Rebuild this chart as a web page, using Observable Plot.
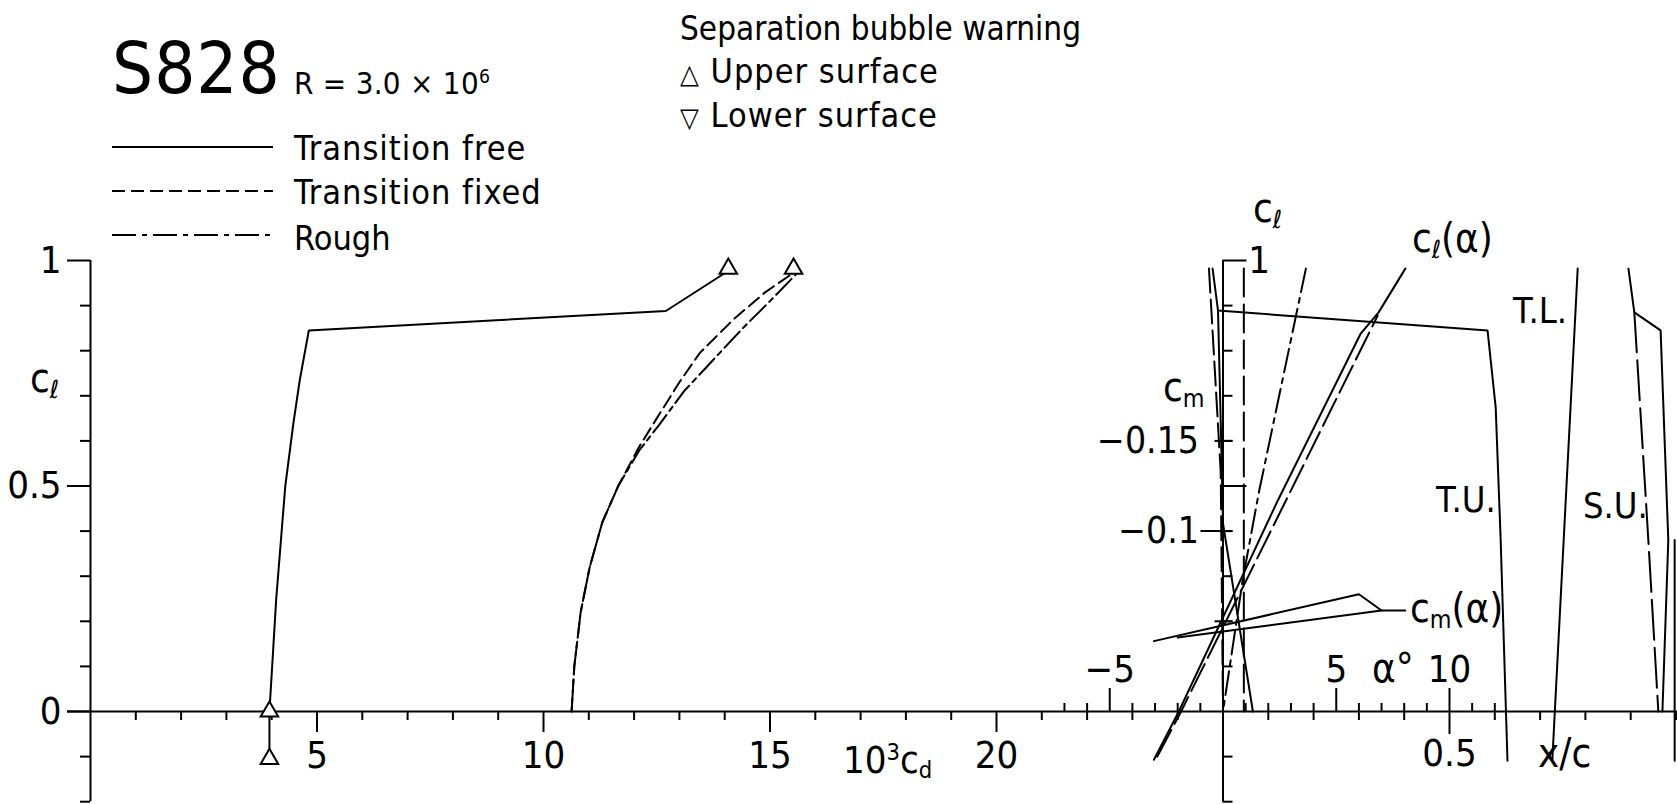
<!DOCTYPE html>
<html><head><meta charset="utf-8">
<script src="https://cdn.jsdelivr.net/npm/d3@7"></script>
<script src="https://cdn.jsdelivr.net/npm/@observablehq/plot@0.6"></script>
<style>
html,body{margin:0;padding:0;background:#fff;}
#chart{position:relative;width:1677px;height:804px;overflow:hidden;background:#fff;}
#chart svg{position:absolute;left:0;top:0;}
.t{position:absolute;white-space:nowrap;line-height:1;color:#000;font-family:"Liberation Sans Narrow","DejaVu Sans Condensed",sans-serif;}
</style></head><body><div id="chart"></div>
<script>
const FONT = '"Liberation Sans Narrow","DejaVu Sans Condensed",sans-serif';

// ---------- tick values ----------
const cdTicks = [1,2,3,4,5,6,7,8,9,10,11,12,13,14,15,16,17,18,19,20,21,22,23,24];
const cdMajor = [5,10,15,20];
const clTicks = [-0.2,-0.1,0,0.1,0.2,0.3,0.4,0.5,0.6,0.7,0.8,0.9,1];
const clMajor = [0,0.5,1];
const alphaTicks = [-7,-6,-5,-4,-3,-2,-1,1,2,3,4,5,6,7,8,9,10,11,12];
const alphaMajor = [-5,5,10];
const xcTicks = [0.1,0.2,0.3,0.4,0.5,0.6,0.7,0.8,0.9,1.0];
const xcMajor = [0.5];
const cmTicks = [-0.05,-0.1,-0.15];
const cmMajor = [-0.1];
const cmLabels = [-0.1,-0.15];

// ---------- drag polar: [10^3 cd, cl] ----------
const polarFree  = [[3.95,-0.105],[3.95,0],[4.1,0.25],[4.3,0.5],[4.48,0.64],[4.62,0.735],[4.82,0.845],[12.7,0.888],[14.05,0.975]];
const polarFixed = [[10.62,0],[10.68,0.1],[10.82,0.22],[11.02,0.32],[11.3,0.42],[11.65,0.5],[12.1,0.585],[12.5,0.65],[13.0,0.73],[13.45,0.795],[14.2,0.87],[14.9,0.93],[15.55,0.975]];
const polarRough = [[10.62,0],[10.68,0.1],[10.82,0.22],[11.02,0.32],[11.3,0.42],[11.65,0.5],[12.12,0.58],[12.55,0.635],[13.1,0.71],[13.75,0.78],[14.4,0.85],[15.0,0.91],[15.6,0.972]];
const bubbleFree  = [[3.95,0],[3.95,-0.105],[14.08,0.982]];
const bubbleFixed = [[15.52,0.982]];

// ---------- lift and moment vs alpha ----------
const clAlphaFree  = [[-3.05,-0.107],[-1.95,0],[2.42,0.468],[6.08,0.838],[6.87,0.885],[8.05,0.982]];
const clAlphaFixed = [[-2.9,-0.1],[-1.85,0],[2.78,0.468],[6.83,0.878]];
const cmAlphaFree  = [[-3.05,-0.039],[6.0,-0.065],[7.0,-0.056],[8.05,-0.056]];
const cmAlphaFixed = [[-2.0,-0.041],[7.0,-0.056]];

// ---------- transition / separation: [x/c, cl] ----------
const tuFree  = [[-0.023,0.982],[-0.011,0.889],[0.584,0.845],[0.602,0.674],[0.613,0.379],[0.628,-0.109]];
const tlFree  = [[0.783,0.982],[0.752,0.379],[0.727,-0.107]];
const suFree  = [[0.895,0.982],[0.908,0.885],[0.966,0.845],[0.983,0.379],[0.970,0.0]];
const suFixed = [[0.908,0.885],[0.939,0.379],[0.961,0.0]];
const teFree  = [[0.997,0.38],[0.997,-0.109]];
const leFree  = [[-0.011,0.889],[-0.004,0.6],[0.0,0.417],[0.066,0.0]];
const leFixed = [[-0.031,0.982],[-0.005,0.53],[0.0,0.0]];
const trFixed = [[0.046,0.982],[0.046,0.0]];
const leRough = [[0.183,0.982],[0.08,0.49],[0.044,0.295],[0.0,0.0]];

// ---------- layout ----------
const W = 1677, H = 804;
const chart = document.getElementById("chart");
const CL_DOMAIN = [-0.2, 1], CL_RANGE = [801.2, 260];
const CL_PX = 1 / 451, CD_PX = 1 / 45.3, A_PX = 1 / 22.65;
const SW = 2;
const fmt = d => (d < 0 ? "\u2212" : "") + String(Math.abs(d));
const lineOpts = (extra) => Object.assign({x: d => d[0], y: d => d[1], stroke: "black", strokeWidth: SW, strokeLinejoin: "miter"}, extra || {});

function layer(opts) {
  const svg = Plot.plot(Object.assign({
    width: W, height: H, margin: 0,
    style: {background: "transparent", overflow: "visible"}
  }, opts));
  chart.appendChild(svg);
}

// Plot A: drag polar
layer({
  x: {domain: [0, 25], range: [90, 1222.5], axis: null},
  y: {domain: CL_DOMAIN, range: CL_RANGE, axis: null},
  marks: [
    Plot.ruleX([0], {y1: -0.2, y2: 1, stroke: "black", strokeWidth: SW}),
    Plot.ruleY([0], {x1: -23 * CD_PX, x2: 25, stroke: "black", strokeWidth: SW}),
    Plot.ruleY(clTicks, {y: d => d, x1: d => clMajor.includes(d) ? -23 * CD_PX : -10 * CD_PX, x2: 0, stroke: "black", strokeWidth: SW}),
    Plot.ruleX(cdTicks, {x: d => d, y1: 0, y2: d => cdMajor.includes(d) ? -21 * CL_PX : -9 * CL_PX, stroke: "black", strokeWidth: SW}),
    Plot.text(clMajor, {x: 0, y: d => d, dx: -29, textAnchor: "end", text: fmt, fontSize: 38, fontFamily: FONT, fill: "black"}),
    Plot.text(cdMajor, {x: d => d, y: 0, dy: 44, text: fmt, fontSize: 38, fontFamily: FONT, fill: "black"}),
    Plot.line(polarFree, lineOpts()),
    Plot.line(polarFixed, lineOpts({strokeDasharray: "13,6"})),
    Plot.line(polarRough, lineOpts({strokeDasharray: "22,5,5,5"})),
    Plot.dot(bubbleFree, {x: d => d[0], y: d => d[1], symbol: "triangle", r: 6.5, fill: "white", stroke: "black", strokeWidth: SW}),
    Plot.dot(bubbleFixed, {x: d => d[0], y: d => d[1], symbol: "triangle", r: 6.5, fill: "white", stroke: "black", strokeWidth: SW})
  ]
});

// Plot B: cl vs alpha
layer({
  x: {domain: [0, 20], range: [1222.5, 1675.5], axis: null},
  y: {domain: CL_DOMAIN, range: CL_RANGE, axis: null},
  marks: [
    Plot.ruleX([0], {y1: -0.2, y2: 1, stroke: "black", strokeWidth: SW}),
    Plot.ruleY(clTicks.filter(d => d !== 0), {y: d => d, x1: 0, x2: d => (d === 0.5 || d === 1) ? 24 * A_PX : 10 * A_PX, stroke: "black", strokeWidth: SW}),
    Plot.ruleX(alphaTicks, {x: d => d, y1: 0, y2: d => alphaMajor.includes(d) ? 23 * CL_PX : 8 * CL_PX, stroke: "black", strokeWidth: SW}),
    Plot.text(alphaMajor, {x: d => d, y: 0, dy: -42, text: fmt, fontSize: 38, fontFamily: FONT, fill: "black"}),
    Plot.text([1], {x: 0, y: d => d, dx: 36, text: fmt, fontSize: 38, fontFamily: FONT, fill: "black"}),
    Plot.line(clAlphaFree, lineOpts()),
    Plot.line(clAlphaFixed, lineOpts({strokeDasharray: "30,7"}))
  ]
});

// Plot C: cm vs alpha
layer({
  x: {domain: [0, 20], range: [1222.5, 1675.5], axis: null},
  y: {domain: [0, -0.25], range: [711, 260], axis: null},
  marks: [
    Plot.ruleY(cmTicks, {y: d => d, x1: d => cmMajor.includes(d) ? -22 * A_PX : -8 * A_PX, x2: 10 * A_PX, stroke: "black", strokeWidth: SW}),
    Plot.text(cmLabels, {x: 0, y: d => d, dx: -24, textAnchor: "end", text: fmt, fontSize: 37, fontFamily: FONT, fill: "black"}),
    Plot.line(cmAlphaFree, lineOpts()),
    Plot.line(cmAlphaFixed, lineOpts())
  ]
});

// Plot D: transition / separation locations
layer({
  x: {domain: [0, 1], range: [1222.5, 1675.5], axis: null},
  y: {domain: CL_DOMAIN, range: CL_RANGE, axis: null},
  marks: [
    Plot.ruleY([0], {x1: 0, x2: 1.01, stroke: "black", strokeWidth: SW}),
    Plot.ruleX(xcTicks, {x: d => d, y1: 0, y2: d => xcMajor.includes(d) ? -23 * CL_PX : -9 * CL_PX, stroke: "black", strokeWidth: SW}),
    Plot.text(xcMajor, {x: d => d, y: 0, dy: 42, text: String, fontSize: 38, fontFamily: FONT, fill: "black"}),
    Plot.line(tuFree, lineOpts()),
    Plot.line(tlFree, lineOpts()),
    Plot.line(suFree, lineOpts()),
    Plot.line(suFixed, lineOpts({strokeDasharray: "40,8"})),
    Plot.line(teFree, lineOpts()),
    Plot.line(leFree, lineOpts()),
    Plot.line(leFixed, lineOpts({strokeDasharray: "24,7"})),
    Plot.line(trFixed, lineOpts({strokeDasharray: "28,8"})),
    Plot.line(leRough, lineOpts({strokeDasharray: "24,6,5,6"}))
  ]
});

// ---------- legend line samples ----------
const leg = d3.create("svg").attr("width", W).attr("height", H);
[["", 147], ["13,6", 191], ["24,6,5,6", 235]].forEach(([dash, y]) => {
  leg.append("line").attr("x1", 112).attr("x2", 273).attr("y1", y).attr("y2", y)
    .attr("stroke", "black").attr("stroke-width", SW).attr("stroke-dasharray", dash || null);
});
chart.appendChild(leg.node());

// ---------- text ----------
const sub = (s) => `<span style="position:relative;top:0.22em;font-size:0.62em">${s}</span>`;
const sup = (s) => `<span style="position:relative;top:-0.55em;font-size:0.62em">${s}</span>`;
function txt(x, base, html, size, anchor, ls) {
  const d = document.createElement("div");
  d.className = "t";
  d.style.left = x + "px";
  d.style.top = (base - 0.846 * size) + "px";
  d.style.fontSize = size + "px";
  if (ls) d.style.letterSpacing = ls + "px";
  if (anchor === "middle") d.style.transform = "translateX(-50%)";
  if (anchor === "end") d.style.transform = "translateX(-100%)";
  d.innerHTML = html;
  chart.appendChild(d);
}
txt(112, 93, "S828", 72, "start", 1);
txt(294, 94, "R = 3.0 \u00d7 10" + sup("6"), 31, "start", 0.3);
txt(680, 40, "Separation bubble warning", 33, "start", 0);
txt(680, 83, "<span style='font-size:0.8em'>\u25b3</span> Upper surface", 34, "start", 1);
txt(680, 127, "<span style='font-size:0.8em'>\u25bd</span> Lower surface", 34, "start", 1);
txt(294, 160, "Transition free", 34, "start", 1);
txt(294, 204, "Transition fixed", 34, "start", 1);
txt(294, 250, "Rough", 34, "start", 0);
txt(30, 392, "c" + sub("\u2113"), 40);
txt(1253, 222, "c" + sub("\u2113"), 40);
txt(1163, 401, "c" + sub("m"), 40);
txt(843, 773, "10" + sup("3") + "c" + sub("d"), 38);
txt(1412, 252, "c" + sub("\u2113") + "(\u03b1)", 40);
txt(1410, 622, "c" + sub("m") + "(\u03b1)", 40);
txt(1372, 682, "\u03b1\u00b0", 40);
txt(1538, 767, "x/c", 40);
txt(1436, 512, "T.U.", 36);
txt(1513, 323, "T.L.", 36);
txt(1583, 518, "S.U.", 36);
</script></body></html>
